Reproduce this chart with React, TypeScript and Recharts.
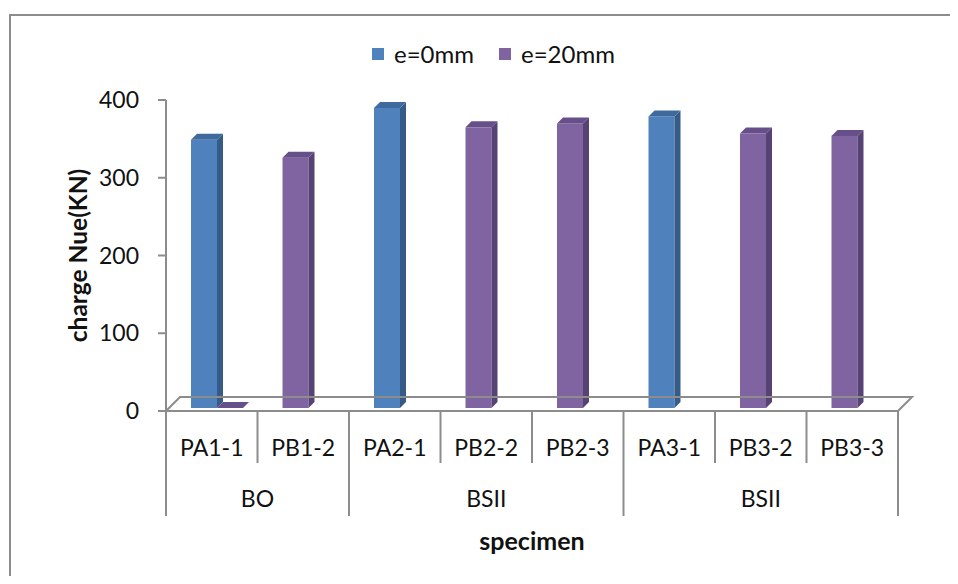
import { BarChart, Bar, XAxis, YAxis, Legend } from "recharts";

const categories = ["PA1-1", "PB1-2", "PA2-1", "PB2-2", "PB2-3", "PA3-1", "PB3-2", "PB3-3"];
const e0mm = [345, null, 386, null, null, 375, null, null];
const e20mm = [0, 322, null, 361, 366, null, 353, 350];
const groupLabels = ["BO", "BSII", "BSII"];
const groupSizes = [2, 3, 3];
const yTicks = [0, 100, 200, 300, 400];

const data = categories.map((name, i) => ({ name, e0: e0mm[i], e20: e20mm[i] }));

// layout (chart coords = page coords - 8)
const W = 942;
const H = 568;
const LEGEND_H = 25;
const MARGIN = { top: 92 - LEGEND_H, right: 52, left: 98, bottom: 55 };
const Y_W = 60;
const PLOT_L = MARGIN.left + Y_W;
const PLOT_R = W - MARGIN.right;
const AXIS_Y = 403;
const BW = (PLOT_R - PLOT_L) / categories.length;
const GRID = "#8c8c8c";
const FONT = "Lato, 'Open Sans', sans-serif";
const TXT = 23;

const groupStarts = groupSizes.map((_, g) => groupSizes.slice(0, g).reduce((a, b) => a + b, 0));

const Bar3D = (props: any) => {
  const { x, y, width, height, payload, k, front, side, top } = props;
  if (payload[k] == null) return null;
  const d = 6;
  const bx = x - 8;
  const by = y - 3;
  if (!height || height <= 0) {
    const sx = bx + width;
    const base = by + (height || 0);
    return (
      <polygon
        points={`${sx},${base} ${sx + width},${base} ${sx + width + d},${base - d} ${sx + d},${base - d}`}
        fill={top}
      />
    );
  }
  return (
    <g>
      <rect x={bx} y={by} width={width} height={height} fill={front} />
      <polygon
        points={`${bx + width},${by} ${bx + width + d},${by - d} ${bx + width + d},${by + height - d} ${bx + width},${by + height}`}
        fill={side}
      />
      <polygon
        points={`${bx},${by} ${bx + d},${by - d} ${bx + width + d},${by - d} ${bx + width},${by}`}
        fill={top}
      />
    </g>
  );
};

const CategoryTick = (props: any) => {
  const { x, payload, index } = props;
  const left = x - BW / 2;
  const n = categories.length;
  const g = groupStarts.indexOf(index);
  const isStart = g >= 0;
  return (
    <g>
      <line x1={left} y1={AXIS_Y} x2={left} y2={AXIS_Y + (isStart ? 105 : 52)} stroke={GRID} strokeWidth={2} />
      {index === n - 1 && (
        <line x1={left + BW} y1={AXIS_Y} x2={left + BW} y2={AXIS_Y + 105} stroke={GRID} strokeWidth={2} />
      )}
      {index === 0 && (
        <polyline
          points={`${left},${AXIS_Y} ${left + 14},${AXIS_Y - 14} ${left + n * BW + 14},${AXIS_Y - 14} ${left + n * BW},${AXIS_Y}`}
          fill="none"
          stroke={GRID}
          strokeWidth={2}
        />
      )}
      <text x={x} y={AXIS_Y + 36} textAnchor="middle" dominantBaseline="central" fontSize={TXT} fill="#111" fontFamily={FONT}>
        {payload.value}
      </text>
      {isStart && (
        <text
          x={left + (groupSizes[g] * BW) / 2}
          y={AXIS_Y + 87}
          textAnchor="middle"
          dominantBaseline="central"
          fontSize={TXT}
          fill="#111"
          fontFamily={FONT}
        >
          {groupLabels[g]}
        </text>
      )}
    </g>
  );
};

const LegendBox = () => (
  <div style={{ display: "flex", alignItems: "center", height: LEGEND_H, fontFamily: FONT, fontSize: 24, color: "#111" }}>
    <span style={{ width: 12, height: 12, background: "#4F81BD", display: "inline-block", marginRight: 10 }} />
    <span style={{ marginRight: 25 }}>e=0mm</span>
    <span style={{ width: 12, height: 12, background: "#8064A2", display: "inline-block", marginRight: 10 }} />
    <span>e=20mm</span>
  </div>
);

export default function App() {
  return (
    <div style={{ margin: -8, position: "relative", width: W + 16, height: H + 16, overflow: "hidden", background: "#fff" }}>
      <div style={{ position: "absolute", left: 9, top: 14, width: W + 16, height: 2, background: GRID }} />
      <div style={{ position: "absolute", left: 9, top: 14, width: 2, height: H + 16, background: GRID }} />
      <div style={{ position: "absolute", left: 8, top: 8 }}>
        <BarChart width={W} height={H} data={data} margin={MARGIN} barGap={-26}>
          <Legend
            content={<LegendBox />}
            verticalAlign="top"
            align="left"
            wrapperStyle={{ top: 33, left: 364, width: "auto", height: LEGEND_H }}
          />
          <YAxis
            width={Y_W}
            domain={[0, 400]}
            ticks={yTicks}
            interval={0}
            axisLine={{ stroke: GRID, strokeWidth: 2 }}
            tickLine={{ stroke: GRID, strokeWidth: 2 }}
            tickSize={8}
            tickMargin={19}
            tick={{ fontSize: TXT, fill: "#111", fontFamily: FONT }}
            label={{
              content: (p: any) => {
                const vb = p.viewBox;
                const cx = vb.x - 29;
                const cy = vb.y + vb.height / 2;
                return (
                  <text
                    x={cx}
                    y={cy}
                    transform={`rotate(-90 ${cx} ${cy})`}
                    textAnchor="middle"
                    dominantBaseline="central"
                    fontSize={24.5}
                    fontWeight="bold"
                    fill="#111"
                    fontFamily={FONT}
                  >
                    charge Nue(KN)
                  </text>
                );
              },
            }}
          />
          <XAxis
            dataKey="name"
            height={110}
            interval={0}
            axisLine={{ stroke: GRID, strokeWidth: 2 }}
            tickLine={false}
            tickSize={0}
            tick={<CategoryTick />}
            label={{
              content: (p: any) => {
                const vb = p.viewBox;
                return (
                  <text
                    x={vb.x + vb.width / 2}
                    y={AXIS_Y + 129}
                    textAnchor="middle"
                    dominantBaseline="central"
                    fontSize={25}
                    fontWeight="bold"
                    fill="#111"
                    fontFamily={FONT}
                  >
                    specimen
                  </text>
                );
              },
            }}
          />
          <Bar
            dataKey="e0"
            name="e=0mm"
            barSize={26}
            fill="#4F81BD"
            isAnimationActive={false}
            shape={(p: any) => <Bar3D {...p} k="e0" front="#4F81BD" side="#375B87" top="#3F6A9E" />}
          />
          <Bar
            dataKey="e20"
            name="e=20mm"
            barSize={26}
            fill="#8064A2"
            isAnimationActive={false}
            shape={(p: any) => <Bar3D {...p} k="e20" front="#8064A2" side="#574274" top="#67508A" />}
          />
        </BarChart>
      </div>
    </div>
  );
}
